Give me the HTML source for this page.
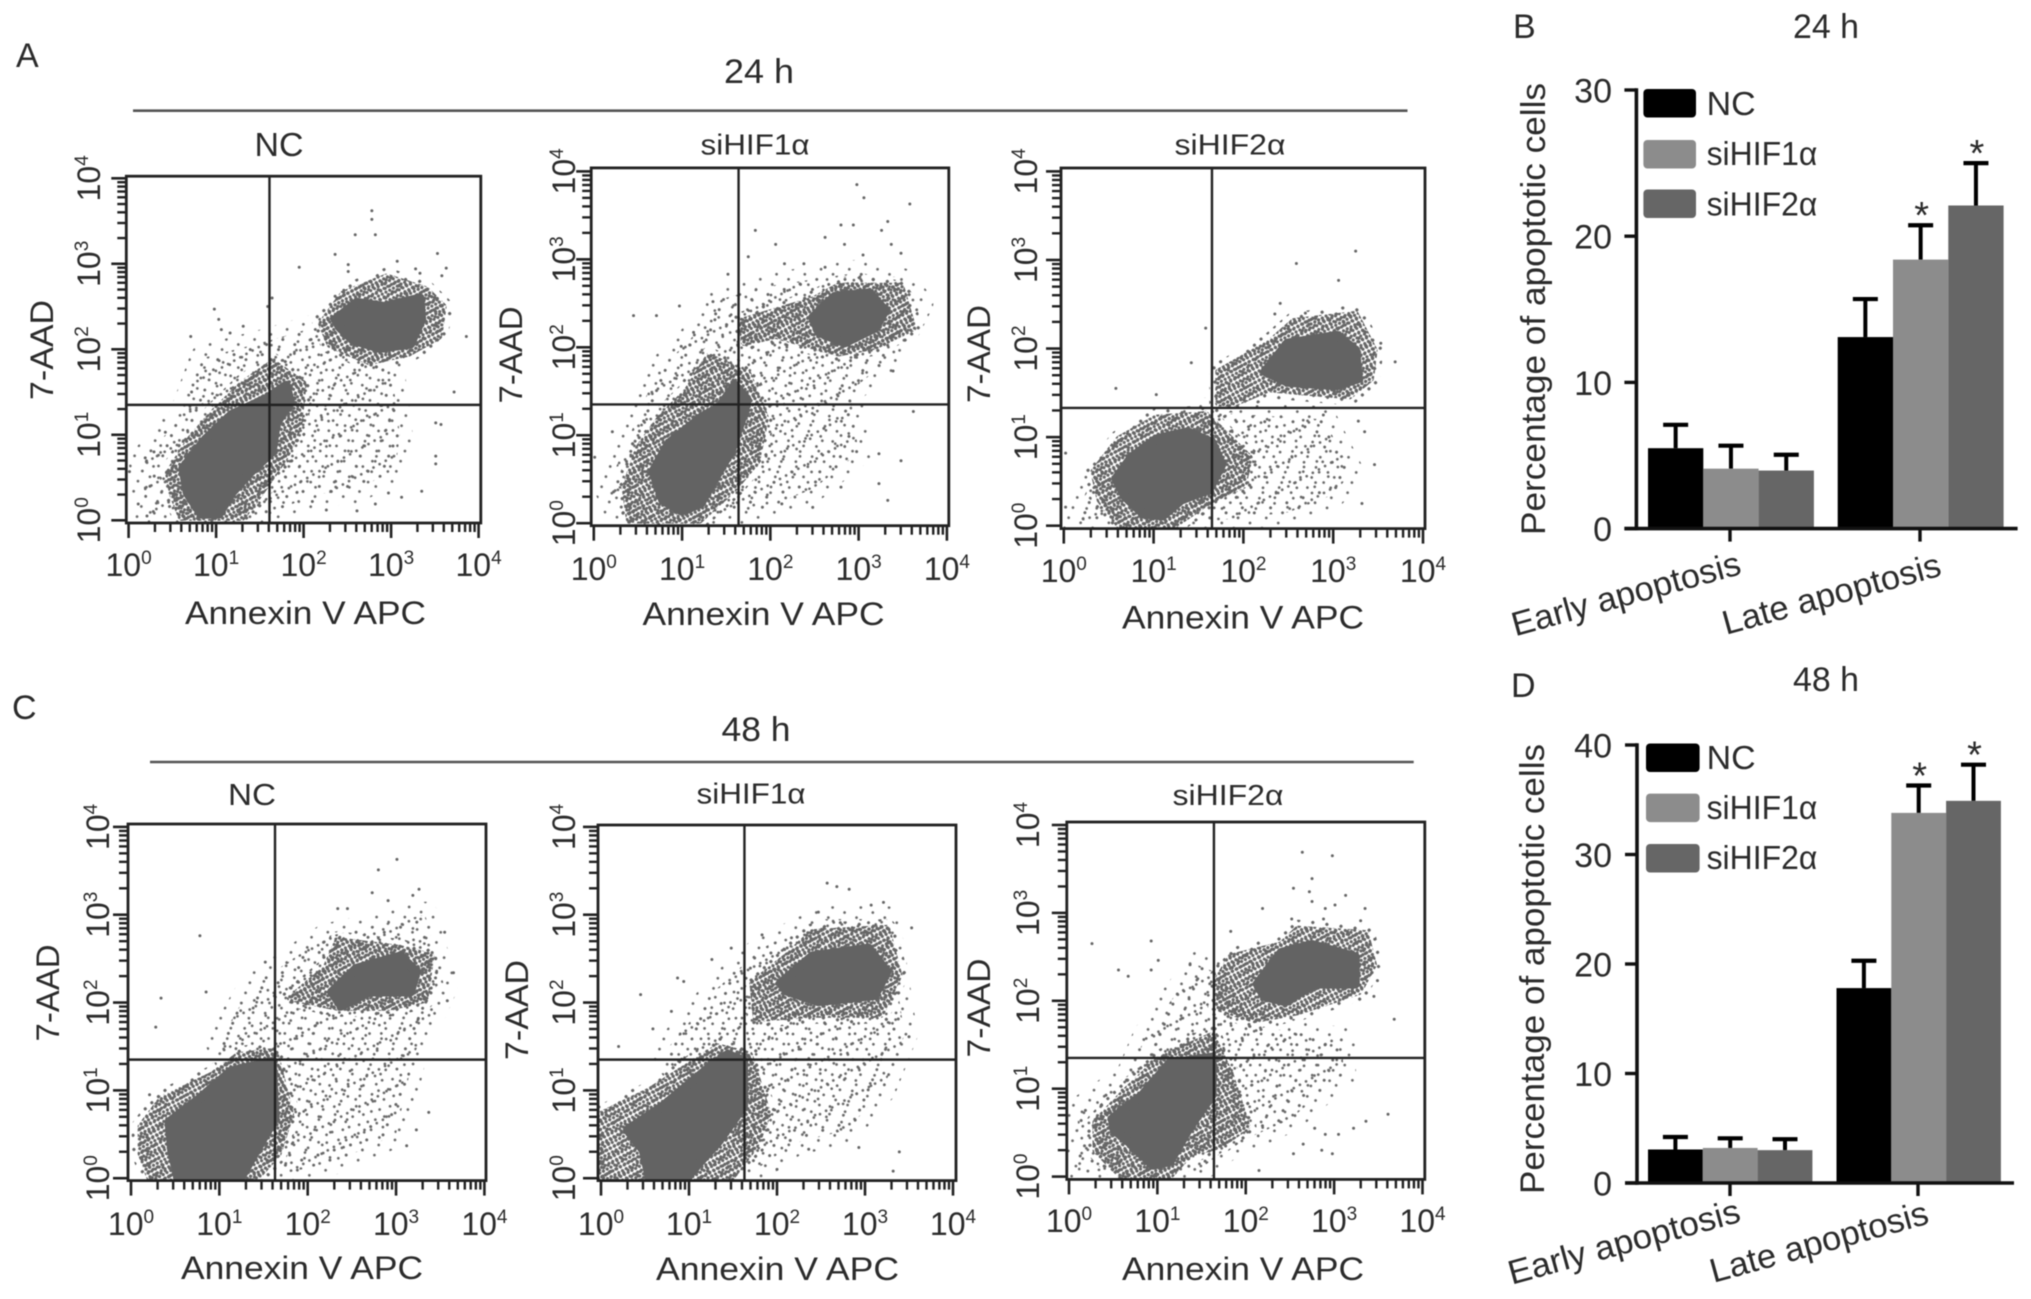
<!DOCTYPE html>
<html lang="en">
<head>
<meta charset="utf-8">
<title>Apoptosis flow cytometry and bar charts</title>
<style>
html,body{margin:0;padding:0;background:#fff;width:2031px;height:1299px;overflow:hidden}
svg{display:block;filter:blur(.6px)}
text{font-family:"Liberation Sans",Arial,sans-serif;fill:#2b2b2b}
</style>
</head>
<body>
<svg id="figure" xmlns="http://www.w3.org/2000/svg" width="2031" height="1299" viewBox="0 0 2031 1299">
<defs>
<pattern id="sparseA" width="13" height="11" patternUnits="userSpaceOnUse" patternTransform="rotate(23)"><circle cx="3" cy="4" r="1.35" fill="#666"/></pattern>
<pattern id="sparseB" width="17" height="19" patternUnits="userSpaceOnUse" patternTransform="rotate(-37)"><circle cx="9" cy="2" r="1.35" fill="#666"/></pattern>
<pattern id="sparseC" width="23" height="7" patternUnits="userSpaceOnUse" patternTransform="rotate(61)"><circle cx="15" cy="5" r="1.35" fill="#666"/></pattern>
<pattern id="sparseD" width="11" height="16" patternUnits="userSpaceOnUse" patternTransform="rotate(-71)"><circle cx="5" cy="9" r="1.35" fill="#666"/></pattern>
<pattern id="denseA" width="6" height="6" patternUnits="userSpaceOnUse" patternTransform="rotate(17)"><circle cx="1.5" cy="1.5" r="1.6" fill="#666"/><circle cx="4.5" cy="4.5" r="1.6" fill="#666"/></pattern>
<pattern id="denseB" width="5" height="7" patternUnits="userSpaceOnUse" patternTransform="rotate(-29)"><circle cx="2" cy="5" r="1.6" fill="#666"/></pattern>
<pattern id="denseC" width="11" height="9" patternUnits="userSpaceOnUse" patternTransform="rotate(47)"><circle cx="8" cy="2" r="1.6" fill="#666"/></pattern>
</defs>
<rect width="2031" height="1299" fill="#fff"/>

<text x="16" y="67" font-size="34">A</text>
<text x="1513" y="38" font-size="34">B</text>
<text x="12" y="719" font-size="34">C</text>
<text x="1511" y="697" font-size="34">D</text>

<text x="759" y="83" font-size="34" text-anchor="middle" textLength="70" lengthAdjust="spacingAndGlyphs">24 h</text>
<line x1="133" x2="1407.5" y1="110.7" y2="110.7" stroke="#555" stroke-width="2.6"/>
<text x="756" y="741" font-size="34" text-anchor="middle" textLength="69" lengthAdjust="spacingAndGlyphs">48 h</text>
<line x1="150" x2="1413.7" y1="762" y2="762" stroke="#555" stroke-width="2.4"/>

<text x="279" y="156" font-size="33" text-anchor="middle" textLength="49" lengthAdjust="spacingAndGlyphs">NC</text>
<text x="755" y="154.5" font-size="29" text-anchor="middle" textLength="109" lengthAdjust="spacingAndGlyphs">siHIF1α</text>
<text x="1230" y="154.5" font-size="29" text-anchor="middle" textLength="111" lengthAdjust="spacingAndGlyphs">siHIF2α</text>
<text x="252" y="805" font-size="31" text-anchor="middle" textLength="48" lengthAdjust="spacingAndGlyphs">NC</text>
<text x="751" y="803.5" font-size="29" text-anchor="middle" textLength="109" lengthAdjust="spacingAndGlyphs">siHIF1α</text>
<text x="1228" y="805" font-size="29" text-anchor="middle" textLength="111" lengthAdjust="spacingAndGlyphs">siHIF2α</text>

<text x="305.5" y="624" font-size="32" text-anchor="middle" textLength="241" lengthAdjust="spacingAndGlyphs">Annexin V APC</text>
<text x="763.5" y="625" font-size="32" text-anchor="middle" textLength="242" lengthAdjust="spacingAndGlyphs">Annexin V APC</text>
<text x="1243" y="628.5" font-size="32" text-anchor="middle" textLength="242" lengthAdjust="spacingAndGlyphs">Annexin V APC</text>
<text x="302" y="1279" font-size="32" text-anchor="middle" textLength="242" lengthAdjust="spacingAndGlyphs">Annexin V APC</text>
<text x="777.5" y="1280" font-size="32" text-anchor="middle" textLength="243" lengthAdjust="spacingAndGlyphs">Annexin V APC</text>
<text x="1243" y="1280" font-size="32" text-anchor="middle" textLength="242" lengthAdjust="spacingAndGlyphs">Annexin V APC</text>

<text transform="translate(53,350) rotate(-90)" font-size="32" text-anchor="middle" textLength="100" lengthAdjust="spacingAndGlyphs">7-AAD</text>
<text transform="translate(522,355) rotate(-90)" font-size="32" text-anchor="middle" textLength="97" lengthAdjust="spacingAndGlyphs">7-AAD</text>
<text transform="translate(990,354) rotate(-90)" font-size="32" text-anchor="middle" textLength="98" lengthAdjust="spacingAndGlyphs">7-AAD</text>
<text transform="translate(59,993) rotate(-90)" font-size="32" text-anchor="middle" textLength="97" lengthAdjust="spacingAndGlyphs">7-AAD</text>
<text transform="translate(528,1010) rotate(-90)" font-size="32" text-anchor="middle" textLength="100" lengthAdjust="spacingAndGlyphs">7-AAD</text>
<text transform="translate(990,1008) rotate(-90)" font-size="32" text-anchor="middle" textLength="99" lengthAdjust="spacingAndGlyphs">7-AAD</text>

<text x="1826" y="38" font-size="34" text-anchor="middle" textLength="66" lengthAdjust="spacingAndGlyphs">24 h</text>
<text x="1826" y="691" font-size="34" text-anchor="middle" textLength="66" lengthAdjust="spacingAndGlyphs">48 h</text>
<text transform="translate(1545,309) rotate(-90)" font-size="34" text-anchor="middle" textLength="452" lengthAdjust="spacingAndGlyphs">Percentage of apoptotic cells</text>
<text transform="translate(1544,969) rotate(-90)" font-size="34" text-anchor="middle" textLength="450" lengthAdjust="spacingAndGlyphs">Percentage of apoptotic cells</text>

<g id="flowLayer"></g>
<g id="barLayer"></g>
</svg>
<script>
// ---------- flow cytometry data: all values in log10 decades (0 to 4) ----------
const decadeExponents = ['0','1','2','3','4'];

const a1GateX = 1.61;
const a1GateY = 1.35;
const a1CoreRegions = [
 [[.62,.61],[.88,.95],[1.18,1.24],[1.59,1.43],[1.8,1.58],[1.85,1.38],[1.69,1.14],[1.64,.8],[1.39,.56],[1.18,.32],[1.03,.07],[.83,.07],[.67,.32]],
 [[2.36,2.35],[2.61,2.55],[2.92,2.5],[3.33,2.6],[3.35,2.35],[3.22,2.06],[2.87,2.01],[2.56,2.11],[2.41,2.26]]];
const a1DenseRegions = [
 [[.45,.55],[.7,.95],[1.0,1.3],[1.3,1.6],[1.65,1.85],[2.0,1.6],[1.95,1.1],[1.8,.75],[1.5,.3],[1.3,.03],[.6,.03],[.5,.3]],
 [[2.2,2.3],[2.45,2.65],[2.95,2.85],[3.4,2.7],[3.6,2.5],[3.55,2.15],[3.2,1.95],[2.75,1.85],[2.3,2.05]]];
const a1SparseRegions = [
 [[.15,.7],[.6,1.2],[.85,1.9],[1.6,2.1],[2.1,2.25],[2.4,2.1],[3.0,1.8],[3.1,1.0],[3.05,.6],[2.6,.35],[2.1,.3],[1.6,.06],[.2,.06]]];
const a1OutlierX = [2.78,2.78,2.82,2.59,2.36,3.53,3.07,2.51,2.51,1.95,3.28,3.33,3.63,3.58,2.36,2.46,3.86,3.72,.98,1.03,1.06,1.16,1.31,.71,1.64,1.59,.72,.42,.01,.19,.11,3.51,3.57,3.51,3.51,2.82,2.1,2.26,2.61,3.35,3.12,2.97,.29,.21];
const a1OutlierY = [3.62,3.52,3.34,3.34,3.11,3.12,3.03,2.99,2.91,2.96,2.94,2.89,2.95,2.86,2.62,2.69,2.15,1.5,2.47,2.35,2.23,2.19,2.27,2.15,2.6,2.5,1.5,1.03,.57,.73,.19,1.14,1.12,.75,.66,.19,.22,.12,.11,.34,.27,.32,.8,.05];

const a2GateX = 1.64;
const a2GateY = 1.35;
const a2CoreRegions = [
 [[.67,.59],[.85,.91],[1.21,1.2],[1.42,1.32],[1.6,1.57],[1.74,1.4],[1.67,1.16],[1.56,.83],[1.35,.47],[1.21,.22],[.99,.14],[.78,.26]],
 [[2.48,2.34],[2.73,2.58],[3.12,2.62],[3.3,2.42],[3.19,2.22],[2.84,2.05],[2.55,2.17]]];
const a2DenseRegions = [
 [[.35,.4],[.5,.85],[.75,1.2],[1.05,1.5],[1.3,1.9],[1.75,1.7],[1.95,1.2],[1.85,.7],[1.6,.4],[1.2,.03],[.4,.03]],
 [[1.67,2.3],[2.48,2.54],[2.77,2.7],[3.48,2.7],[3.62,2.22],[3.19,2.01],[2.77,1.93],[2.06,2.13],[1.7,2.05]]];
const a2SparseRegions = [
 [[.15,.4],[.45,1.1],[.7,1.7],[1.1,2.1],[1.45,2.55],[2.0,2.7],[3.0,2.85],[3.5,2.75],[3.7,2.5],[3.4,1.9],[2.9,1.5],[3.0,.8],[2.5,.4],[1.9,.15],[.3,.06]]];
const a2OutlierX = [2.98,3.06,3.58,1.83,2.8,2.94,3.26,2.62,2.06,3.33,3.37,3.05,2.84,3.48,2.16,2.38,2.62,1.75,1.52,.97,.45,.71,1.35,1.38,1.13,.99,3.39,3.62,3.23,3.48,2.8,3.33,3.23,2.48,2.13,.21,.01];
const a2OutlierY = [3.85,3.7,3.63,3.33,3.39,3.39,3.33,3.25,3.17,3.43,3.17,3.05,3.17,3.07,2.95,2.95,2.91,3.03,2.83,2.47,2.36,2.36,2.52,2.38,2.17,2.01,1.73,1.27,.79,.71,.41,.26,.45,.18,.22,1.04,.75];

const a3GateX = 1.65;
const a3GateY = 1.33;
const a3CoreRegions = [
 [[.58,.53],[.75,.77],[1.03,.98],[1.38,1.06],[1.65,.94],[1.76,.69],[1.62,.41],[1.31,.29],[1.1,.11],[.89,.13],[.68,.33]],
 [[2.24,1.74],[2.49,2.06],[3.04,2.15],[3.25,1.98],[3.28,1.66],[3.04,1.58],[2.49,1.62]]];
const a3DenseRegions = [
 [[.33,.61],[.61,.98],[1.03,1.22],[1.58,1.26],[2.07,.77],[2.0,.45],[1.65,.29],[1.24,.01],[.61,.01],[.4,.29]],
 [[1.72,1.38],[1.72,1.74],[2.28,2.06],[2.56,2.31],[3.25,2.39],[3.46,1.98],[3.42,1.66],[3.18,1.46],[2.28,1.54],[1.9,1.38]]];
const a3SparseRegions = [
 [[.12,.06],[.26,.41],[1.58,1.3],[1.93,1.26],[2.9,1.2],[3.2,.6],[3.0,.35],[2.5,.15],[1.72,.06]]];
const a3OutlierX = [3.25,2.59,3.06,2.41,1.58,1.42,.58,1.03,2.35,2.69,3.69,3.53,3.28,3.35,2.89,3.46,3.32,.02,.02];
const a3OutlierY = [3.1,2.96,2.77,2.51,2.23,1.84,1.55,1.48,2.39,2.4,1.85,2.06,1.18,1.06,1.25,.69,.25,.82,.21];

const c1GateX = 1.63;
const c1GateY = 1.35;
const c1CoreRegions = [
 [[.43,.64],[.78,.91],[1.13,1.22],[1.6,1.33],[1.63,.68],[1.42,.32],[1.24,0],[.53,0],[.46,.32]],
 [[2.27,2.12],[2.55,2.39],[3.05,2.53],[3.23,2.35],[3.16,2.12],[2.7,2.12],[2.38,1.96]]];
const c1DenseRegions = [
 [[.11,.59],[.35,.91],[.92,1.18],[1.21,1.4],[1.63,1.45],[1.81,.73],[1.67,.28],[1.42,0],[.21,0],[.11,.28]],
 [[1.8,2.05],[2.2,2.39],[2.34,2.71],[3.05,2.62],[3.4,2.53],[3.33,2.03],[2.91,1.94],[2.34,1.94]]];
const c1SparseRegions = [
 [[.99,1.54],[1.35,2.17],[2.2,2.75],[3.33,3.0],[3.55,2.17],[3.2,1.4],[3.0,.5],[2.34,.2],[1.77,.06]]];
const c1OutlierX = [3.01,2.8,2.73,3.26,3.19,2.34,2.45,2.91,.78,3.55,3.65,.34,.28,1.52,.85,3.58,3.37,3.23,.21,3.12];
const c1OutlierY = [3.63,3.51,3.25,3.29,3.22,3.07,3.07,3.16,2.76,2.8,2.34,2.05,1.72,2.46,2.12,2.02,.75,.55,.95,.37];

const c2GateX = 1.63;
const c2GateY = 1.35;
const c2CoreRegions = [
 [[.3,.55],[.7,.82],[1.19,1.23],[1.44,1.41],[1.62,1.34],[1.62,.82],[1.33,.41],[1.05,.1],[.98,0],[.55,0],[.48,.32]],
 [[2.04,2.22],[2.4,2.53],[3.04,2.62],[3.25,2.35],[3.11,2.08],[2.47,2.01],[2.11,2.13]]];
const c2DenseRegions = [
 [[0,.73],[.55,1.0],[1.05,1.32],[1.33,1.5],[1.69,1.41],[1.9,.73],[1.76,.37],[1.48,0],[0,0]],
 [[1.72,2.22],[2.11,2.53],[2.4,2.8],[3.25,2.85],[3.39,2.31],[3.18,1.86],[2.4,1.86],[1.76,1.81]]];
const c2SparseRegions = [
 [[.7,1.41],[1.33,2.17],[1.83,2.62],[2.54,2.95],[3.25,2.95],[3.45,1.63],[3.2,1.0],[2.8,.55],[2.2,.4],[1.76,.1]]];
const c2OutlierX = [2.57,2.68,2.82,3.21,2.47,3.07,3.53,1.83,1.48,1.26,.87,.94,.45,.8,.2,.59,3.5,3.32,3.39,2.93,2.36,2.0];
const c2OutlierY = [3.36,3.32,3.29,3.14,3.03,3.11,2.85,2.77,2.62,2.49,2.28,2.24,2.09,1.9,1.5,1.7,1.61,.08,.3,.35,.33,.1];

const c3GateX = 1.64;
const c3GateY = 1.35;
const c3CoreRegions = [
 [[.49,.66],[.83,.93],[1.14,1.29],[1.62,1.36],[1.62,.93],[1.37,.57],[1.14,.17],[.95,.13],[.68,.39],[.51,.53]],
 [[2.13,2.19],[2.4,2.55],[2.75,2.64],[3.24,2.5],[3.24,2.19],[2.78,2.19],[2.44,1.99],[2.21,2.05]]];
const c3DenseRegions = [
 [[.3,.62],[.64,.98],[1.02,1.34],[1.62,1.61],[1.83,1.16],[2.02,.57],[1.71,.35],[1.37,.26],[1.14,0],[.6,0],[.3,.3]],
 [[1.67,2.23],[1.83,2.5],[2.4,2.64],[2.59,2.82],[3.36,2.77],[3.45,2.41],[3.28,2.1],[2.59,1.87],[2.1,1.78],[1.67,1.92]]];
const c3SparseRegions = [
 [[.1,.06],[.1,.75],[.68,1.16],[.87,1.61],[1.45,2.41],[1.67,2.32],[2.21,1.7],[3.1,1.55],[3.1,1.16],[2.5,.65],[1.83,.35],[1.45,.06]]];
const c3OutlierX = [2.64,2.98,2.75,2.54,2.72,3.13,2.75,2.19,3.35,3.01,2.9,2.52,2.88,3.3,1.83,3.46,.93,.26,1.01,.56,.67,.93,1.37,3.68,3.61,3.36,3.22,3.05,2.9,2.78,2.98,2.86,2.54,2.15,2.65,3.49,3.45];
const c3OutlierY = [3.69,3.65,3.39,3.28,3.24,3.2,3.13,3.05,3.05,3.09,3.05,2.93,2.93,2.91,2.79,2.7,2.68,2.65,2.46,2.35,2.28,2.35,2.41,1.79,.71,.63,.55,.48,.48,.55,.26,.3,.26,.07,.37,2.23,2.05];

// ---------- bar chart data ----------
const barCategories = ['Early apoptosis','Late apoptosis'];
const barSeries = ['NC','siHIF1α','siHIF2α'];
const b24hTicks = [0,10,20,30];
const b24hNC = [5.5,13.1];
const b24hHif1 = [4.1,18.4];
const b24hHif2 = [3.97,22.1];
const b24hNCErr = [7.1,15.7];
const b24hHif1Err = [5.67,20.75];
const b24hHif2Err = [5.05,25.0];
const b24hSignificant = [[false,false],[false,true],[false,true]];
const d48hTicks = [0,10,20,30,40];
const d48hNC = [3.06,17.8];
const d48hHif1 = [3.2,33.8];
const d48hHif2 = [3.0,34.9];
const d48hNCErr = [4.2,20.3];
const d48hHif1Err = [4.08,36.3];
const d48hHif2Err = [4.0,38.2];
const d48hSignificant = [[false,false],[false,true],[false,true]];

// ---------- drawing ----------
const root = document.getElementById('figure');
const NS = root.namespaceURI;
function mk(tag, attrs, parent){
  const e = document.createElementNS(NS, tag);
  for (const k in attrs) e.setAttribute(k, attrs[k]);
  parent.appendChild(e);
  return e;
}
function powerLabel(parent, exp, x, y, transform){
  const t = mk('text', {'font-size':32,'text-anchor':'middle'}, parent);
  if (transform) t.setAttribute('transform', transform);
  else { t.setAttribute('x', x); t.setAttribute('y', y); }
  
  
  t.appendChild(document.createTextNode('10'));
  const s = mk('tspan', {'font-size':19, dy:-12}, t);
  s.textContent = exp;
}
const denseFills = ['denseA','denseB','denseC'];
const sparseFills = ['sparseA','sparseB','sparseC','sparseD'];

function drawFlow(name, l, gateX, gateY, core, dense, sparse, outX, outY){
  const g = mk('g', {}, document.getElementById('flowLayer'));
  
  
  const xPos = v => l.x0 + v * (l.x4 - l.x0) / 4;
  const yPos = v => l.y0 - v * (l.y0 - l.y4) / 4;
  const clip = mk('clipPath', {id:name + '-clip'}, g);
  mk('rect', {x:l.left, y:l.top, width:l.right - l.left, height:l.bottom - l.top}, clip);
  const plot = mk('g', {'clip-path':'url(#' + name + '-clip)'}, g);
  
  
  const pts = r => r.map(p => xPos(p[0]).toFixed(1) + ',' + yPos(p[1]).toFixed(1)).join(' ');
  sparse.forEach(r => {
    const fringe = mk('polygon', {points:pts(r), fill:'none', stroke:'url(#sparseA)', 'stroke-width':26, 'stroke-linejoin':'round'}, plot);
    
    
    sparseFills.forEach(f => {
      const a = mk('polygon', {points:pts(r), fill:'url(#' + f + ')'}, plot);
      
      
    });
  });
  dense.forEach(r => {
    const fringe = mk('polygon', {points:pts(r), fill:'none', stroke:'url(#denseC)', 'stroke-width':18, 'stroke-linejoin':'round'}, plot);
    
    
    denseFills.forEach(f => {
      const a = mk('polygon', {points:pts(r), fill:'url(#' + f + ')', stroke:'url(#' + f + ')', 'stroke-width':6, 'stroke-linejoin':'round'}, plot);
      
      
    });
  });
  core.forEach(r => {
    const a = mk('polygon', {points:pts(r), fill:'#636363', stroke:'#636363', 'stroke-width':9, 'stroke-linejoin':'round'}, plot);
    
    
  });
  outX.forEach((v, i) => {
    const d = mk('circle', {cx:xPos(v), cy:yPos(outY[i]), r:1.5, fill:'#666'}, plot);
    
    
  });
  const vg = mk('line', {x1:xPos(gateX), x2:xPos(gateX), y1:l.top, y2:l.bottom, stroke:'#222', 'stroke-width':2.4}, g);
  
  
  const hg = mk('line', {x1:l.left, x2:l.right, y1:yPos(gateY), y2:yPos(gateY), stroke:'#222', 'stroke-width':2.4}, g);
  
  
  const fr = mk('rect', {x:l.left, y:l.top, width:l.right - l.left, height:l.bottom - l.top, fill:'none', stroke:'#222', 'stroke-width':2.8}, g);
  
  
  for (let d = 0; d <= 4; d++){
    const mx = mk('line', {x1:xPos(d), x2:xPos(d), y1:l.bottom, y2:l.bottom + 15, stroke:'#222', 'stroke-width':2.6}, g);
    
    
    const my = mk('line', {x1:l.left - 15, x2:l.left, y1:yPos(d), y2:yPos(d), stroke:'#222', 'stroke-width':2.6}, g);
    
    
    powerLabel(g, decadeExponents[d], xPos(d), l.xLabelY);
    powerLabel(g, decadeExponents[d], 0, 0, 'translate(' + l.yLabelX + ',' + yPos(d) + ') rotate(-90)');
    if (d < 4) for (let k = 2; k < 10; k++){
      const q = d + Math.log10(k);
      const nx = mk('line', {x1:xPos(q), x2:xPos(q), y1:l.bottom, y2:l.bottom + 9, stroke:'#222', 'stroke-width':2.4}, g);
      
      
      const ny = mk('line', {x1:l.left - 9, x2:l.left, y1:yPos(q), y2:yPos(q), stroke:'#222', 'stroke-width':2.4}, g);
      
      
    }
  }
}

drawFlow('flow-24h-nc', {left:126.3,right:480.8,top:176.2,bottom:523,x0:128.6,x4:478.6,y0:520.3,y4:178.3,xLabelY:576,yLabelX:100}, a1GateX, a1GateY, a1CoreRegions, a1DenseRegions, a1SparseRegions, a1OutlierX, a1OutlierY);
drawFlow('flow-24h-sihif1', {left:591.2,right:948.8,top:167.9,bottom:525.7,x0:593.8,x4:946.9,y0:523.2,y4:171.4,xLabelY:580,yLabelX:575}, a2GateX, a2GateY, a2CoreRegions, a2DenseRegions, a2SparseRegions, a2OutlierX, a2OutlierY);
drawFlow('flow-24h-sihif2', {left:1061,right:1425,top:168,bottom:528.6,x0:1063.8,x4:1423,y0:525.7,y4:171.4,xLabelY:582,yLabelX:1037}, a3GateX, a3GateY, a3CoreRegions, a3DenseRegions, a3SparseRegions, a3OutlierX, a3OutlierY);
drawFlow('flow-48h-nc', {left:128,right:486,top:824,bottom:1180.6,x0:131,x4:484.4,y0:1178.2,y4:826.9,xLabelY:1235,yLabelX:109}, c1GateX, c1GateY, c1CoreRegions, c1DenseRegions, c1SparseRegions, c1OutlierX, c1OutlierY);
drawFlow('flow-48h-sihif1', {left:598,right:956,top:825,bottom:1180.6,x0:601,x4:953,y0:1178.2,y4:826.9,xLabelY:1235,yLabelX:575}, c2GateX, c2GateY, c2CoreRegions, c2DenseRegions, c2SparseRegions, c2OutlierX, c2OutlierY);
drawFlow('flow-48h-sihif2', {left:1066.8,right:1424.8,top:822,bottom:1179.4,x0:1069,x4:1422.5,y0:1176.6,y4:825,xLabelY:1232,yLabelX:1039}, c3GateX, c3GateY, c3CoreRegions, c3DenseRegions, c3SparseRegions, c3OutlierX, c3OutlierY);

const seriesFill = ['#000','#8c8c8c','#666'];
function drawBars(name, l, ticks, values, errors, significant){
  const g = mk('g', {}, document.getElementById('barLayer'));
  
  
  const maxTick = ticks[ticks.length - 1];
  const yPos = v => l.zeroY - v * (l.zeroY - l.topY) / maxTick;
  barCategories.forEach((cat, c) => {
    values.forEach((series, s) => {
      const x = l.groupX[c] + s * l.barW;
      const cx = x + l.barW / 2;
      const st = mk('line', {x1:cx, x2:cx, y1:yPos(errors[s][c]), y2:yPos(series[c]), stroke:'#000', 'stroke-width':4}, g);
      
      
      const cp = mk('line', {x1:cx - 12.5, x2:cx + 12.5, y1:yPos(errors[s][c]), y2:yPos(errors[s][c]), stroke:'#000', 'stroke-width':4.2}, g);
      
      
      const b = mk('rect', {x:x, y:yPos(series[c]), width:l.barW, height:l.zeroY - yPos(series[c]), fill:seriesFill[s]}, g);
      
      
      if (significant[s][c]){
        const t = mk('text', {x:cx + 1, y:yPos(errors[s][c]) + 3, 'font-size':38, 'text-anchor':'middle'}, g);
        
        
        t.textContent = '*';
      }
    });
    const tk = mk('line', {x1:l.catTick[c], x2:l.catTick[c], y1:l.zeroY, y2:l.zeroY + 13, stroke:'#111', 'stroke-width':3.4}, g);
    
    
    const lab = mk('text', {transform:'translate(' + l.catLabelX[c] + ',' + l.catLabelY + ') rotate(-15.4)', 'font-size':34, 'text-anchor':'middle', textLength:l.catLabelLen[c], lengthAdjust:'spacingAndGlyphs'}, g);
    
    
    lab.textContent = cat;
  });
  const ya = mk('line', {x1:l.axisX, x2:l.axisX, y1:yPos(maxTick) - 1.7, y2:l.zeroY + 1.7, stroke:'#111', 'stroke-width':3.6}, g);
  
  
  const xa = mk('line', {x1:l.axisX - 12, x2:l.axisEnd, y1:l.zeroY, y2:l.zeroY, stroke:'#111', 'stroke-width':3.6}, g);
  
  
  ticks.forEach(v => {
    const tk = mk('line', {x1:l.axisX - 12, x2:l.axisX, y1:yPos(v), y2:yPos(v), stroke:'#111', 'stroke-width':3.4}, g);
    
    
    const t = mk('text', {x:1612, y:yPos(v) + 12.5, 'font-size':34, 'text-anchor':'end'}, g);
    
    
    t.textContent = v;
  });
  barSeries.forEach((sName, s) => {
    const sw = mk('rect', {x:l.legendX, y:l.legendY[s], width:l.legendW, height:28.5, rx:4, fill:seriesFill[s]}, g);
    
    
    const t = mk('text', {x:1706.6, y:l.legendText[s], 'font-size':33, textLength:s === 0 ? 49 : 110.7, lengthAdjust:'spacingAndGlyphs'}, g);
    
    
    t.textContent = sName;
  });
}

drawBars('bar-chart-24h',
  {zeroY:528.6,topY:90,axisX:1636.4,axisEnd:2017.6,barW:55.3,groupX:[1648,1837.7],catTick:[1730,1920],
   catLabelX:[1629,1834.5],catLabelY:605,catLabelLen:[236,225],
   legendX:1643.4,legendW:52.6,legendY:[89,140,189.5],legendText:[115,165,215.6]},
  b24hTicks,[b24hNC,b24hHif1,b24hHif2],[b24hNCErr,b24hHif1Err,b24hHif2Err],b24hSignificant);
drawBars('bar-chart-48h',
  {zeroY:1183,topY:745,axisX:1637,axisEnd:2014,barW:54.8,groupX:[1648,1836.5],catTick:[1730,1918],
   catLabelX:[1627,1822],catLabelY:1253,catLabelLen:[239,225],
   legendX:1646,legendW:53.6,legendY:[743.5,793.6,844],legendText:[769,819,869]},
  d48hTicks,[d48hNC,d48hHif1,d48hHif2],[d48hNCErr,d48hHif1Err,d48hHif2Err],d48hSignificant);
</script>
</body>
</html>
